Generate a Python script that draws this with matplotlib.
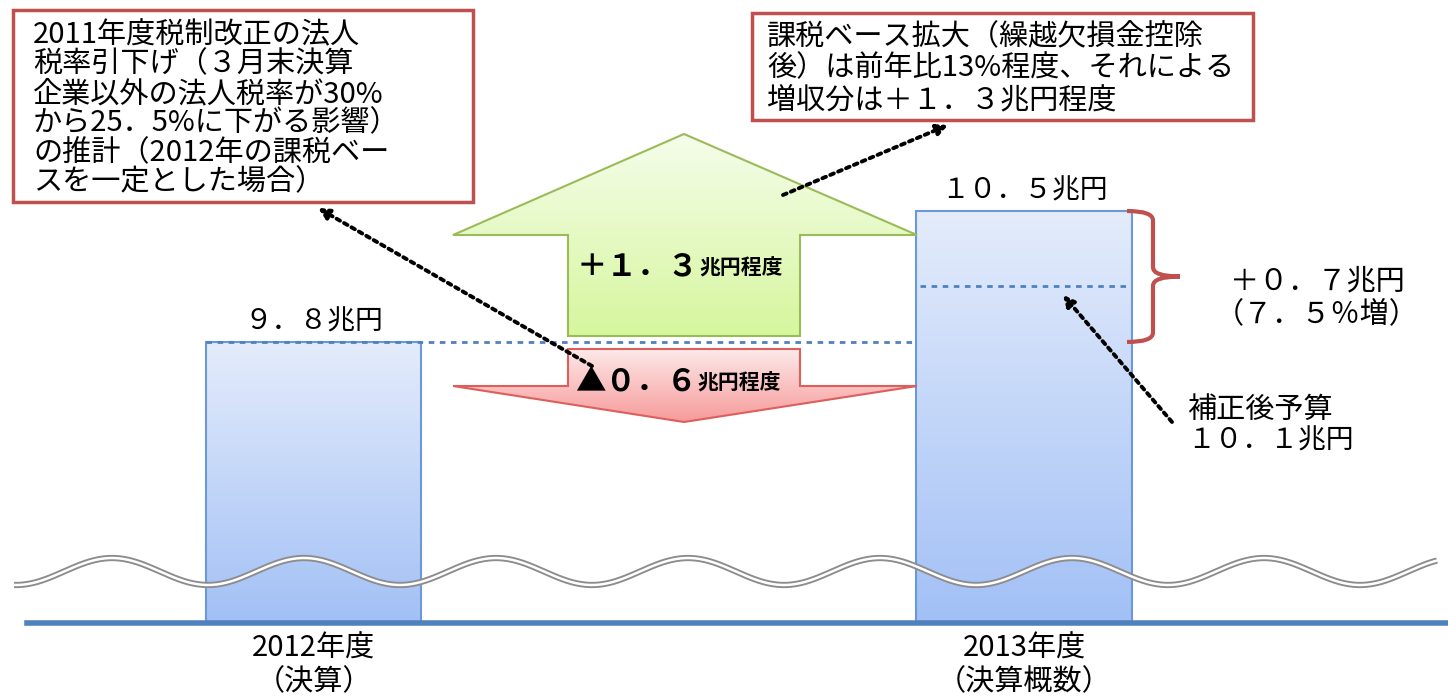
import numpy as np
import matplotlib
matplotlib.use('Agg')
import matplotlib.pyplot as plt
from matplotlib.patches import Polygon, Rectangle, PathPatch
from matplotlib.path import Path
from matplotlib.colors import to_rgba
import matplotlib.transforms as mtrans

plt.rcParams['font.family'] = ['Noto Sans CJK JP', 'DejaVu Sans']

# ---------------- data ----------------
cat_line1 = ['2012年度', '2013年度']
cat_line2 = ['（決算）', '（決算概数）']
values = [9.8, 10.5]                 # 兆円
bar_labels = ['９．８兆円', '１０．５兆円']
budget_2013 = 10.1                   # 補正後予算
budget_labels = ['補正後予算', '１０．１兆円']
diff_labels = ['＋０．７兆円', '（７．５％増）']
up_label = ['＋１．３', '兆円程度']
down_label = ['▲０．６', '兆円程度']
box1_lines = ['2011年度税制改正の法人',
              '税率引下げ（３月末決算',
              '企業以外の法人税率が30%',
              'から25．5%に下がる影響）',
              'の推計（2012年の課税ベー',
              'スを一定とした場合）']
box2_lines = ['課税ベース拡大（繰越欠損金控除',
              '後）は前年比13%程度、それによる',
              '増収分は＋１．３兆円程度']
axis_base = 8.3                      # broken-axis baseline

W, H = 1448, 698
fig = plt.figure(figsize=(W / 100, H / 100), dpi=100)
ax = fig.add_axes([0, 0, 1, 1])
ax.set_xlim(-0.442, 1.597)
ax.set_ylim(7.897, 11.628)
ax.axis('off')

# pixel overlay for annotations
ov = fig.add_axes([0, 0, 1, 1])
ov.set_xlim(0, W)
ov.set_ylim(H, 0)
ov.axis('off')
ov.patch.set_alpha(0)


def gradient(axis, patch, top, bottom, extent):
    c0 = np.array(to_rgba(top))
    c1 = np.array(to_rgba(bottom))
    t = np.linspace(0, 1, 256)[:, None]
    img = (c0 * (1 - t) + c1 * t)[:, None, :]
    im = axis.imshow(img, extent=extent, origin='upper', aspect='auto',
                     zorder=patch.get_zorder() - 0.1, interpolation='bilinear')
    im.set_clip_path(patch)


# ---------------- bars ----------------
bw = 0.303
xs = np.arange(len(values))
bars = ax.bar(xs, np.array(values) - axis_base, bottom=axis_base, width=bw,
              facecolor='none', edgecolor='#6d98d6', linewidth=1.5, zorder=3)
for b in bars:
    x0, y0 = b.get_x(), b.get_y()
    gradient(ax, b, '#e4ecfb', '#a2c0f6',
             (x0, x0 + b.get_width(), y0, y0 + b.get_height()))
ax.set_xlim(-0.442, 1.597)
ax.set_ylim(7.897, 11.628)

for i, (v, lab) in enumerate(zip(values, bar_labels)):
    ax.text(xs[i], v + 0.03, lab, ha='center', va='bottom', fontsize=20,
            color='black', zorder=5)

# baseline
ax.axhline(axis_base, xmin=27 / W, xmax=1, color='#4f81bd', lw=4, zorder=4)

# level lines
ax.hlines(values[0], xs[0] - bw / 2, xs[1] - bw / 2, colors='#4f81bd',
          linestyles=(0, (2, 2)), lw=2, zorder=4)
ax.hlines(budget_2013, xs[1] - bw / 2 + 0.005, xs[1] + bw / 2 - 0.007,
          colors='#4f81bd', linestyles=(0, (2, 2)), lw=2, zorder=4)

# category labels
for i in range(len(xs)):
    ax.annotate(cat_line1[i], xy=(xs[i], axis_base), xytext=(0, -19),
                textcoords='offset points', ha='center', va='center', fontsize=21)
    ax.annotate(cat_line2[i], xy=(xs[i], axis_base), xytext=(0, -43),
                textcoords='offset points', ha='center', va='center', fontsize=21)

# ---------------- break wave ----------------
wx = np.linspace(14, 1437, 900)
wy = 571.5 - 13.5 * np.cos(2 * np.pi * (wx - 112) / 192)
ov.plot(wx, wy, color='#8c8c8c', lw=4.5, zorder=6, solid_capstyle='butt')
ov.plot(wx, wy, color='white', lw=1.8, zorder=6.1, solid_capstyle='butt')

# ---------------- arrows ----------------
up_poly = Polygon([(684, 134), (917, 235), (800, 235), (800, 336), (568, 336),
                   (568, 235), (453, 235)], closed=True, facecolor='none',
                  edgecolor='#9bbb59', lw=1.5, zorder=3)
ov.add_patch(up_poly)
gradient(ov, up_poly, '#f5fdea', '#d6f69e', (453, 917, 336, 134))

dn_poly = Polygon([(568, 349), (800, 349), (800, 386), (917, 386), (684, 422),
                   (453, 386), (568, 386)], closed=True, facecolor='none',
                  edgecolor='#dc5f5c', lw=1.5, zorder=3)
ov.add_patch(dn_poly)
gradient(ov, dn_poly, '#fde9e9', '#f79a9a', (453, 917, 422, 349))

t1 = ov.text(577, 266, up_label[0], ha='left', va='center', fontsize=22,
             fontweight='bold', zorder=5)
ov.annotate(up_label[1], xy=(1, 0.12), xycoords=t1, ha='left', va='bottom',
            fontsize=15, fontweight='bold', zorder=5)
t2 = ov.text(575, 381, down_label[0], ha='left', va='center', fontsize=22,
             fontweight='bold', zorder=5)
ov.annotate(down_label[1], xy=(1, 0.12), xycoords=t2, ha='left', va='bottom',
            fontsize=15, fontweight='bold', zorder=5)

# ---------------- boxes ----------------
ov.add_patch(Rectangle((13, 10), 460, 192, facecolor='white',
                       edgecolor='#c0504d', lw=2.5, zorder=4))
for k, line in enumerate(box1_lines):
    ov.text(33, 35 + k * 29.5, line, ha='left', va='center', fontsize=21, zorder=5)

ov.add_patch(Rectangle((752, 13), 501, 107, facecolor='white',
                       edgecolor='#c0504d', lw=2.5, zorder=4))
for k, line in enumerate(box2_lines):
    ov.text(767, 37 + k * 31.5, line, ha='left', va='center', fontsize=21, zorder=5)

# ---------------- brace ----------------
bt = mtrans.blended_transform_factory(ov.transData, ax.transData)
yt, yb = values[1], values[0]
ym = (yt + yb) / 2
verts = [(1127, yt), (1153, yt), (1153, yt - 0.05),
         (1153, ym + 0.05), (1153, ym), (1180, ym),
         (1153, ym), (1153, ym - 0.05),
         (1153, yb + 0.05), (1153, yb), (1127, yb)]
codes = [Path.MOVETO, Path.CURVE3, Path.CURVE3,
         Path.LINETO, Path.CURVE3, Path.CURVE3,
         Path.CURVE3, Path.CURVE3,
         Path.LINETO, Path.CURVE3, Path.CURVE3]
ov.add_patch(PathPatch(Path(verts, codes), transform=bt, facecolor='none',
                       edgecolor='#c0504d', lw=3, zorder=5))

ov.text(1317, 281, diff_labels[0], ha='center', va='center', fontsize=21)
ov.text(1317, 314, diff_labels[1], ha='center', va='center', fontsize=21)
ov.text(1187, 410, budget_labels[0], ha='left', va='center', fontsize=21)
ov.text(1187, 440, budget_labels[1], ha='left', va='center', fontsize=20)

# ---------------- dotted pointer arrows ----------------
ap = dict(arrowstyle='-|>', linestyle=(0, (1, 1.2)), lw=2.8, color='black',
          mutation_scale=16, shrinkA=0, shrinkB=0)
for head, tail in [((318, 208), (592, 366)),
                   ((948, 125), (783, 195)),
                   ((1063, 295), (1172, 422))]:
    ov.annotate('', xy=head, xytext=tail, arrowprops=ap, zorder=7)

fig.savefig('out.png', dpi=100)
